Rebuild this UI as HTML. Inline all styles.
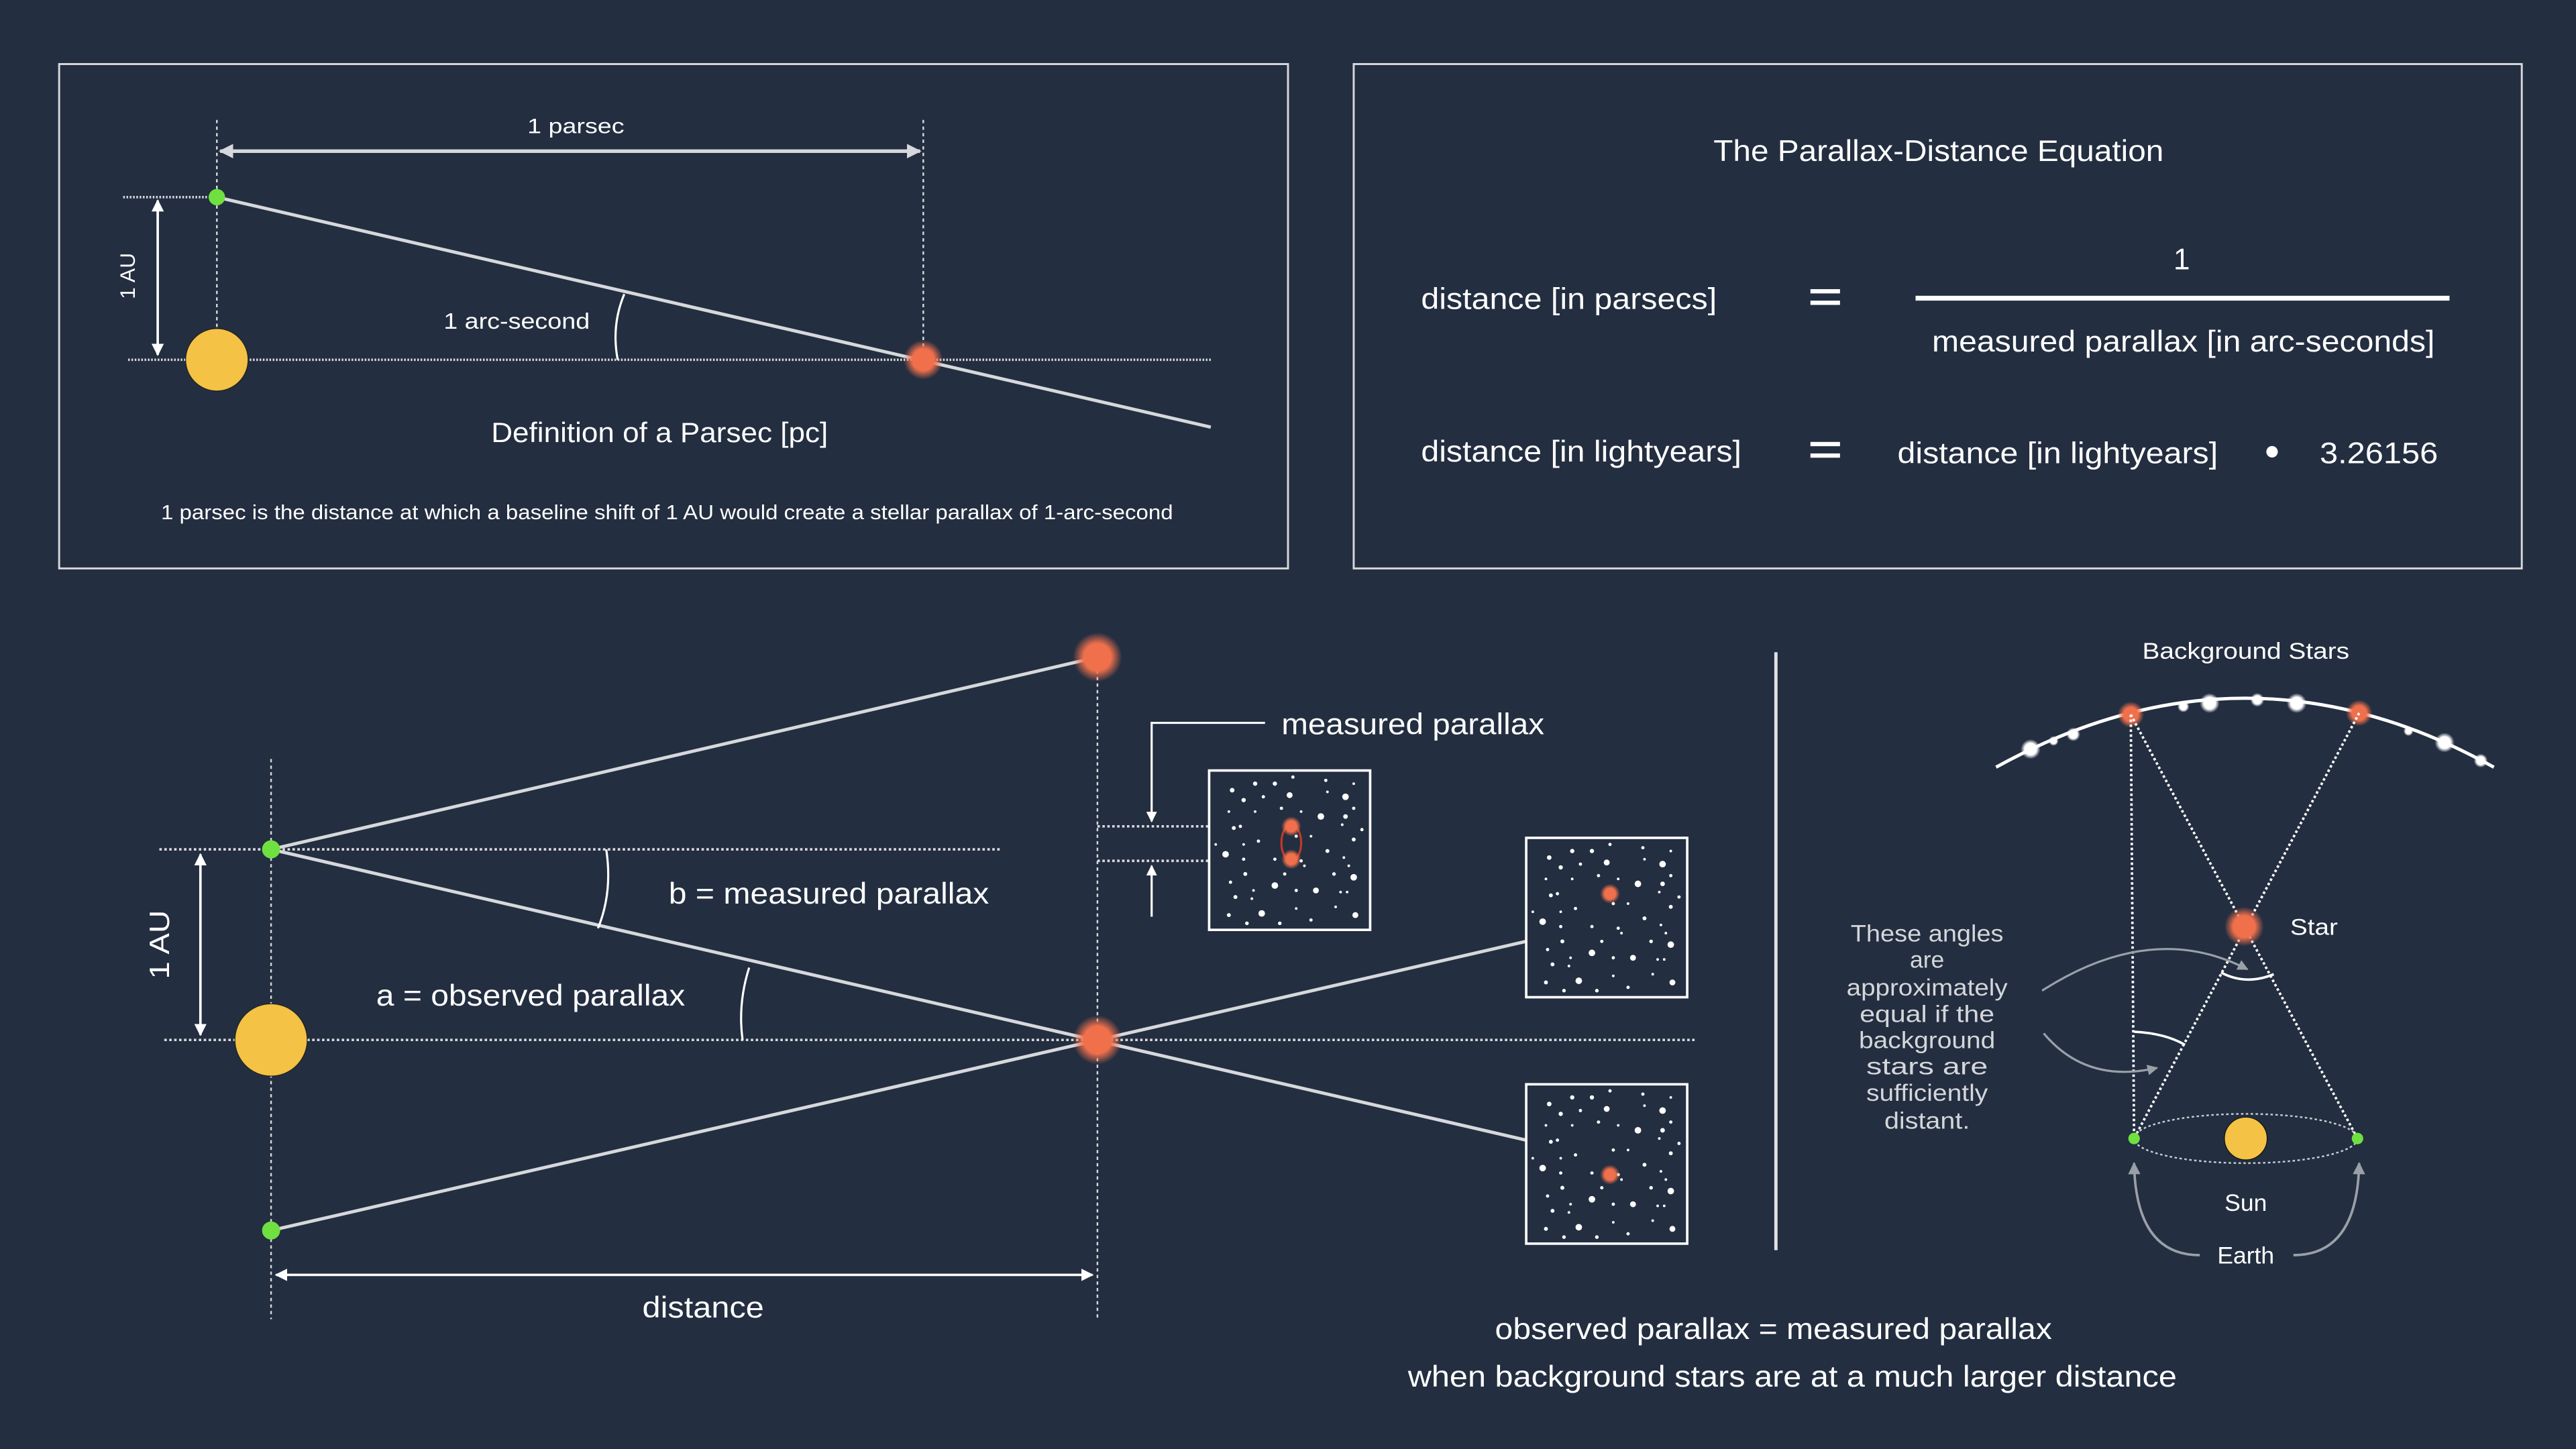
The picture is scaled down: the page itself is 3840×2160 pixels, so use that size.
<!DOCTYPE html>
<html><head><meta charset="utf-8"><style>
html,body{margin:0;padding:0;background:#232e40;}
svg{display:block;}
text{font-family:"Liberation Sans",sans-serif;fill:#fff;}
</style></head><body>
<svg id="fig" width="3840" height="2160" viewBox="0 0 1568 882" xmlns="http://www.w3.org/2000/svg">
<defs>
<radialGradient id="redglow">
<stop offset="0" stop-color="#f0704c"/><stop offset="0.55" stop-color="#f0704c"/><stop offset="1" stop-color="#f0704c" stop-opacity="0"/>
</radialGradient>
<radialGradient id="whiteglow">
<stop offset="0" stop-color="#fff"/><stop offset="0.6" stop-color="#fff"/><stop offset="1" stop-color="#fff" stop-opacity="0"/>
</radialGradient>
<marker id="ah" viewBox="0 0 10 10" refX="9" refY="5" markerWidth="5" markerHeight="5" orient="auto-start-reverse"><path d="M0,0 L10,5 L0,10 z" fill="#fff"/></marker>
<marker id="ahg" viewBox="0 0 10 10" refX="9" refY="5" markerWidth="5" markerHeight="5" orient="auto-start-reverse"><path d="M0,0 L10,5 L0,10 z" fill="#9aa0a8"/></marker>
<marker id="ahl" viewBox="0 0 10 10" refX="9" refY="5" markerWidth="4" markerHeight="4" orient="auto-start-reverse"><path d="M0,0 L10,5 L0,10 z" fill="#d6d8dc"/></marker>
</defs>
<rect width="1568" height="882" fill="#232e40"/>

<!-- Top-left panel -->
<g>
<rect x="36" y="39" width="748" height="307" fill="none" stroke="#d8d8dc" stroke-width="1.2"/>
<line x1="132" y1="73" x2="132" y2="218" stroke="#d8d8dc" stroke-width="1" stroke-dasharray="2,2"/>
<line x1="562" y1="73" x2="562" y2="219" stroke="#d8d8dc" stroke-width="1" stroke-dasharray="2,2"/>
<line x1="75" y1="120" x2="130" y2="120" stroke="#d8d8dc" stroke-width="1.5" stroke-dasharray="1,1"/>
<line x1="78" y1="219" x2="737" y2="219" stroke="#d8d8dc" stroke-width="1.5" stroke-dasharray="1,1"/>
<line x1="134" y1="92" x2="560" y2="92" stroke="#d6d8dc" stroke-width="2.2" marker-start="url(#ahl)" marker-end="url(#ahl)"/>
<text x="321" y="81" font-size="13" textLength="59" lengthAdjust="spacingAndGlyphs">1 parsec</text>
<line x1="96" y1="122" x2="96" y2="216" stroke="#fff" stroke-width="1.5" marker-start="url(#ah)" marker-end="url(#ah)"/>
<text transform="translate(82,168) rotate(-90)" font-size="13" text-anchor="middle">1 AU</text>
<line x1="132" y1="120" x2="737" y2="260" stroke="#d6d8dc" stroke-width="2"/>
<path d="M380,179 Q372,198 376,219" fill="none" stroke="#fff" stroke-width="1.3"/>
<text x="270" y="200" font-size="13.5" textLength="89" lengthAdjust="spacingAndGlyphs">1 arc-second</text>
<circle cx="132" cy="219" r="19" fill="#f4c244" stroke="#222" stroke-width="0.5"/>
<circle cx="132" cy="120" r="5" fill="#6fe040"/>
<circle cx="562" cy="219" r="12" fill="url(#redglow)"/>
<text x="299" y="269" font-size="17" textLength="205" lengthAdjust="spacingAndGlyphs">Definition of a Parsec [pc]</text>
<text x="98" y="316" font-size="12.5" textLength="616" lengthAdjust="spacingAndGlyphs">1 parsec is the distance at which a baseline shift of 1 AU would create a stellar parallax of 1-arc-second</text>
</g>

<!-- Top-right panel -->
<g>
<rect x="824" y="39" width="711" height="307" fill="none" stroke="#d8d8dc" stroke-width="1.2"/>
<text x="1043" y="98" font-size="18" textLength="274" lengthAdjust="spacingAndGlyphs">The Parallax-Distance Equation</text>
<text x="865" y="188" font-size="18" textLength="180" lengthAdjust="spacingAndGlyphs">distance [in parsecs]</text>
<rect x="1102" y="176" width="18" height="2.6" fill="#fff"/>
<rect x="1102" y="183" width="18" height="2.6" fill="#fff"/>
<text x="1328" y="164" font-size="18" text-anchor="middle">1</text>
<line x1="1166" y1="181.5" x2="1491" y2="181.5" stroke="#fff" stroke-width="3"/>
<text x="1176" y="214" font-size="18" textLength="306" lengthAdjust="spacingAndGlyphs">measured parallax [in arc-seconds]</text>
<text x="865" y="281" font-size="18" textLength="195" lengthAdjust="spacingAndGlyphs">distance [in lightyears]</text>
<rect x="1102" y="269" width="18" height="2.6" fill="#fff"/>
<rect x="1102" y="276" width="18" height="2.6" fill="#fff"/>
<text x="1155" y="282" font-size="18" textLength="195" lengthAdjust="spacingAndGlyphs">distance [in lightyears]</text>
<circle cx="1383" cy="275" r="3.5" fill="#fff"/>
<text x="1412" y="282" font-size="18" textLength="72" lengthAdjust="spacingAndGlyphs">3.26156</text>
</g>

<!-- Bottom-left diagram -->
<g>
<line x1="165" y1="462" x2="165" y2="803" stroke="#d8d8dc" stroke-width="1" stroke-dasharray="2,2"/>
<line x1="668" y1="400" x2="668" y2="803" stroke="#d8d8dc" stroke-width="1" stroke-dasharray="2,2"/>
<line x1="97" y1="517" x2="610" y2="517" stroke="#d8d8dc" stroke-width="1.5" stroke-dasharray="1.5,1.5"/>
<line x1="100" y1="633" x2="1033" y2="633" stroke="#d8d8dc" stroke-width="1.5" stroke-dasharray="1.5,1.5"/>
<line x1="668" y1="503" x2="736" y2="503" stroke="#d8d8dc" stroke-width="1.5" stroke-dasharray="1.5,1.5"/>
<line x1="668" y1="524" x2="736" y2="524" stroke="#d8d8dc" stroke-width="1.5" stroke-dasharray="1.5,1.5"/>
<line x1="165" y1="517" x2="668" y2="400" stroke="#d6d8dc" stroke-width="2"/>
<line x1="165" y1="517" x2="929" y2="694" stroke="#d6d8dc" stroke-width="2"/>
<line x1="165" y1="749" x2="929" y2="573" stroke="#d6d8dc" stroke-width="2"/>
<line x1="122" y1="520" x2="122" y2="630" stroke="#fff" stroke-width="1.5" marker-start="url(#ah)" marker-end="url(#ah)"/>
<text transform="translate(103,575) rotate(-90)" font-size="17" text-anchor="middle" textLength="42" lengthAdjust="spacingAndGlyphs">1 AU</text>
<line x1="168" y1="776" x2="665" y2="776" stroke="#fff" stroke-width="1.5" marker-start="url(#ah)" marker-end="url(#ah)"/>
<text x="391" y="802" font-size="18" textLength="74" lengthAdjust="spacingAndGlyphs">distance</text>
<path d="M369,517 Q373,543 364,565" fill="none" stroke="#fff" stroke-width="1.3"/>
<path d="M456,589 Q449,611 452,633" fill="none" stroke="#fff" stroke-width="1.3"/>
<text x="407" y="550" font-size="18" textLength="195" lengthAdjust="spacingAndGlyphs">b = measured parallax</text>
<text x="229" y="612" font-size="18" textLength="188" lengthAdjust="spacingAndGlyphs">a = observed parallax</text>
<polyline points="770,440 701,440 701,500" fill="none" stroke="#fff" stroke-width="1.3" marker-end="url(#ah)"/>
<line x1="701" y1="558" x2="701" y2="527" stroke="#fff" stroke-width="1.3" marker-end="url(#ah)"/>
<text x="780" y="447" font-size="18" textLength="160" lengthAdjust="spacingAndGlyphs">measured parallax</text>
<circle cx="165" cy="633" r="22" fill="#f4c244" stroke="#222" stroke-width="0.5"/>
<circle cx="165" cy="517" r="5.5" fill="#6fe040"/>
<circle cx="165" cy="749" r="5.5" fill="#6fe040"/>
<circle cx="668" cy="400" r="15" fill="url(#redglow)"/>
<circle cx="668" cy="633" r="15" fill="url(#redglow)"/>
<g id="fields"></g>
<line x1="1081" y1="397" x2="1081" y2="761" stroke="#e0e0e4" stroke-width="2"/>
<text x="910" y="815" font-size="18" textLength="339" lengthAdjust="spacingAndGlyphs">observed parallax = measured parallax</text>
<text x="857" y="844" font-size="18" textLength="468" lengthAdjust="spacingAndGlyphs">when background stars are at a much larger distance</text>
</g>

<!-- Bottom-right diagram -->
<g>
<text x="1304" y="401" font-size="14" textLength="126" lengthAdjust="spacingAndGlyphs">Background Stars</text>
<path d="M1215,467 Q1367,383 1518,467" fill="none" stroke="#fff" stroke-width="2"/>
<g id="bgstars"></g>
<line x1="1297" y1="435" x2="1299" y2="693" stroke="#fff" stroke-width="1.5" stroke-dasharray="1.5,1.5"/>
<line x1="1297" y1="435" x2="1435" y2="693" stroke="#fff" stroke-width="1.5" stroke-dasharray="1.5,1.5"/>
<line x1="1436" y1="434" x2="1299" y2="693" stroke="#fff" stroke-width="1.5" stroke-dasharray="1.5,1.5"/>
<ellipse cx="1367" cy="693" rx="68" ry="15" fill="none" stroke="#c8ccd2" stroke-width="1" stroke-dasharray="1.5,1.5"/>
<circle cx="1367" cy="693" r="13" fill="#f4c244" stroke="#111" stroke-width="0.5"/>
<circle cx="1299" cy="693" r="3.5" fill="#6fe040"/>
<circle cx="1435" cy="693" r="3.5" fill="#6fe040"/>
<circle cx="1366" cy="564" r="12" fill="url(#redglow)"/>
<text x="1394" y="569" font-size="14" textLength="29" lengthAdjust="spacingAndGlyphs">Star</text>
<path d="M1352,592 Q1367,600 1384,593" fill="none" stroke="#fff" stroke-width="1.5"/>
<path d="M1299,628 Q1318,629 1330,636" fill="none" stroke="#fff" stroke-width="1.5"/>
<path d="M1243,603 Q1310,560 1368,590" fill="none" stroke="#9aa0a8" stroke-width="1.3" marker-end="url(#ahg)"/>
<path d="M1244,629 Q1270,660 1313,650" fill="none" stroke="#9aa0a8" stroke-width="1.3" marker-end="url(#ahg)"/>
<g font-size="14.5" text-anchor="middle">
<text x="1173" y="573" textLength="93" lengthAdjust="spacingAndGlyphs" style="fill:#d4d6da">These angles</text>
<text x="1173" y="589" style="fill:#d4d6da">are</text>
<text x="1173" y="606" textLength="98" lengthAdjust="spacingAndGlyphs" style="fill:#d4d6da">approximately</text>
<text x="1173" y="622" textLength="82" lengthAdjust="spacingAndGlyphs" style="fill:#d4d6da">equal if the</text>
<text x="1173" y="638" textLength="83" lengthAdjust="spacingAndGlyphs" style="fill:#d4d6da">background</text>
<text x="1173" y="654" textLength="74" lengthAdjust="spacingAndGlyphs" style="fill:#d4d6da">stars are</text>
<text x="1173" y="670" textLength="74" lengthAdjust="spacingAndGlyphs" style="fill:#d4d6da">sufficiently</text>
<text x="1173" y="687" textLength="52" lengthAdjust="spacingAndGlyphs" style="fill:#d4d6da">distant.</text>
</g>
<text x="1367" y="737" font-size="14.5" text-anchor="middle">Sun</text>
<text x="1367" y="769" font-size="14.5" text-anchor="middle">Earth</text>
<path d="M1339,764 Q1300,764 1299,708" fill="none" stroke="#9aa0a8" stroke-width="1.5" marker-end="url(#ahg)"/>
<path d="M1396,764 Q1435,764 1436,708" fill="none" stroke="#9aa0a8" stroke-width="1.5" marker-end="url(#ahg)"/>
</g>
</svg>
<script>
// Star field pattern (relative units within a 98-wide box): x, y, radius
const starX = [14,28,40,51,71,88,21,33,49,72,83,12,28,44,56,68,83,88,15,19,81,93,62,53,88,4,21,30,72,10,21,40,82,85,58,56,22,46,76,88,13,27,40,53,65,80,84,16,26,77,53,12,32,89,23,43,62];
const starY = [12,8,8,4,6,8,18,16,15,13,16,25,25,23,25,28,28,23,35,34,33,36,40,40,42,45,45,43,49,51,54,54,53,58,58,55,63,63,63,65,68,73,70,73,73,74,74,77,78,83,84,88,87,88,93,93,91];
const starR = [1.4,1.3,1.3,1,1,.8,1.3,1,1.8,.8,2,.8,.8,1,.8,2,1.4,1,1.2,1,.8,1,.8,1,1.2,.8,.8,1,1.2,2,1,1,.8,.8,.8,1,1.2,1,1.1,2,1,.8,2,1,1.8,.8,.8,1.2,.8,.8,.8,1.2,2,1.8,1.1,1.1,1];
// Boxes: left, top, red star offsets
const boxX = [736,929,929];
const boxY = [469,510,660];
const redX = [[50,50],[51],[51]];
const redY = [[34,54],[34],[55]];
// Background stars on the arc
const bgX = [1236,1250,1262,1329,1345,1374,1398,1466,1488,1510];
const bgY = [456,451,447,430,428,426,428,445,452,463];
const bgR = [5,2.5,3.5,3,5,3.5,5,2.5,5,3.5];
const bgRedX = [1297,1436];
const bgRedY = [435,434];

const NS = 'http://www.w3.org/2000/svg';
const fields = document.getElementById('fields');
boxX.forEach((bx, i) => {
  const g = document.createElementNS(NS, 'g');
  
  
  const r = document.createElementNS(NS, 'rect');
  r.setAttribute('x', bx); r.setAttribute('y', boxY[i]);
  r.setAttribute('width', 98); r.setAttribute('height', 97);
  r.setAttribute('fill', '#232e40'); r.setAttribute('stroke', '#fff'); r.setAttribute('stroke-width', '1.5');
  
  
  g.appendChild(r);
  starX.forEach((sx, j) => {
    const c = document.createElementNS(NS, 'circle');
    c.setAttribute('cx', bx + sx); c.setAttribute('cy', boxY[i] + starY[j]);
    c.setAttribute('r', starR[j]); c.setAttribute('fill', '#fff');
    
    
    g.appendChild(c);
  });
  if (i === 0) {
    const e = document.createElementNS(NS, 'ellipse');
    e.setAttribute('cx', bx + 50); e.setAttribute('cy', boxY[i] + 44);
    e.setAttribute('rx', 6); e.setAttribute('ry', 11);
    e.setAttribute('fill', 'none'); e.setAttribute('stroke', '#c0392b'); e.setAttribute('stroke-width', '1.3');
    
    
    g.appendChild(e);
  }
  redX[i].forEach((rx, k) => {
    const c = document.createElementNS(NS, 'circle');
    c.setAttribute('cx', bx + rx); c.setAttribute('cy', boxY[i] + redY[i][k]);
    c.setAttribute('r', 6); c.setAttribute('fill', 'url(#redglow)');
    
    
    g.appendChild(c);
  });
  fields.appendChild(g);
});
const bg = document.getElementById('bgstars');
bgX.forEach((x, i) => {
  const c = document.createElementNS(NS, 'circle');
  c.setAttribute('cx', x); c.setAttribute('cy', bgY[i]); c.setAttribute('r', bgR[i] * 1.2);
  c.setAttribute('fill', 'url(#whiteglow)');
  
  
  bg.appendChild(c);
});
bgRedX.forEach((x, i) => {
  const c = document.createElementNS(NS, 'circle');
  c.setAttribute('cx', x); c.setAttribute('cy', bgRedY[i]); c.setAttribute('r', 8);
  c.setAttribute('fill', 'url(#redglow)');
  
  
  bg.appendChild(c);
});
</script>
</body></html>
